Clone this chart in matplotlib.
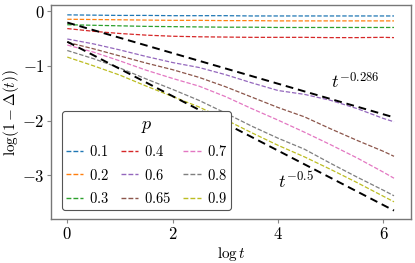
import numpy as np
import matplotlib
matplotlib.use("Agg")
import matplotlib.pyplot as plt

plt.rcParams['mathtext.fontset'] = 'cm'
plt.rcParams['font.family'] = ['DejaVu Serif']

logt = [0, 0.5, 1, 1.5, 2, 2.5, 3, 3.5, 4, 4.5, 5, 5.5, 6, 6.2]
p_labels = ["0.1", "0.2", "0.3", "0.4", "0.6", "0.65", "0.7", "0.8", "0.9"]
y_p01 = [-0.07, -0.075, -0.08, -0.08, -0.085, -0.085, -0.085, -0.09, -0.09, -0.09, -0.09, -0.09, -0.09, -0.09]
y_p02 = [-0.15, -0.155, -0.16, -0.165, -0.17, -0.17, -0.175, -0.175, -0.18, -0.18, -0.18, -0.18, -0.18, -0.18]
y_p03 = [-0.25, -0.26, -0.27, -0.28, -0.285, -0.29, -0.295, -0.295, -0.30, -0.30, -0.30, -0.30, -0.30, -0.30]
y_p04 = [-0.32, -0.37, -0.41, -0.44, -0.46, -0.47, -0.475, -0.48, -0.48, -0.48, -0.485, -0.485, -0.48, -0.485]
y_p06 = [-0.51, -0.60, -0.71, -0.83, -0.94, -1.03, -1.16, -1.31, -1.45, -1.52, -1.63, -1.78, -1.96, -2.02]
y_p065 = [-0.57, -0.69, -0.82, -0.95, -1.07, -1.21, -1.38, -1.57, -1.76, -1.93, -2.15, -2.36, -2.56, -2.65]
y_p07 = [-0.62, -0.75, -0.91, -1.08, -1.23, -1.37, -1.56, -1.78, -1.99, -2.21, -2.44, -2.68, -2.94, -3.05]
y_p08 = [-0.72, -0.87, -1.04, -1.24, -1.43, -1.63, -1.86, -2.10, -2.32, -2.52, -2.78, -3.03, -3.27, -3.37]
y_p09 = [-0.84, -1.00, -1.17, -1.37, -1.56, -1.75, -1.98, -2.22, -2.45, -2.66, -2.89, -3.13, -3.38, -3.48]
series = [y_p01, y_p02, y_p03, y_p04, y_p06, y_p065, y_p07, y_p08, y_p09]
colors = ['#1f77b4', '#ff7f0e', '#2ca02c', '#d62728', '#9467bd', '#8c564b', '#e377c2', '#7f7f7f', '#bcbd22']

ref_x = [0, 6.2]
ref_286 = [-0.21, -1.94]
ref_05 = [-0.56, -3.64]

fig = plt.figure(figsize=(4.15, 2.63), dpi=100)
ax = fig.add_axes([0.124, 0.166, 0.866, 0.815])

for y, c, lab in zip(series, colors, p_labels):
    ax.plot(logt, y, ls=(0, (3.5, 1.5)), lw=0.9, color=c, label=f"${lab}$")
ax.plot(ref_x, ref_286, ls=(0, (4, 2.5)), lw=1.4, color='black')
ax.plot(ref_x, ref_05, ls=(0, (4, 2.5)), lw=1.4, color='black')

ax.text(5.0, -1.42, r"$t^{-0.286}$", fontsize=13)
ax.text(3.99, -3.22, r"$t^{-0.5}$", fontsize=13)

ax.set_xlim(-0.3, 6.52)
ax.set_ylim(-3.8, 0.11)
ax.set_xticks([0, 2, 4, 6])
ax.set_xticklabels([r"$0$", r"$2$", r"$4$", r"$6$"])
ax.set_yticks([0, -1, -2, -3])
ax.set_yticklabels([r"$0$", r"$-1$", r"$-2$", r"$-3$"])
ax.tick_params(labelsize=12, length=3, width=0.8, color='#888888', pad=2)
for s in ax.spines.values():
    s.set_color('#777777')
    s.set_linewidth(1.0)
ax.set_xlabel(r"$\log t$", fontsize=11, labelpad=1)
ax.set_ylabel(r"$\log(1-\Delta(t))$", fontsize=11, labelpad=1)

leg = ax.legend(title=r"$p$", ncol=3, loc='lower left', fontsize=10.5, title_fontsize=13,
                frameon=True, fancybox=True, edgecolor='#555555', framealpha=1,
                handlelength=1.2, handletextpad=0.4, columnspacing=0.8,
                labelspacing=0.6, borderpad=0.25, bbox_to_anchor=(0.01, 0.01))
leg.get_frame().set_linewidth(0.8)
for h in leg.get_lines():
    h.set_linewidth(1.0)

fig.savefig("out.png", dpi=100)
